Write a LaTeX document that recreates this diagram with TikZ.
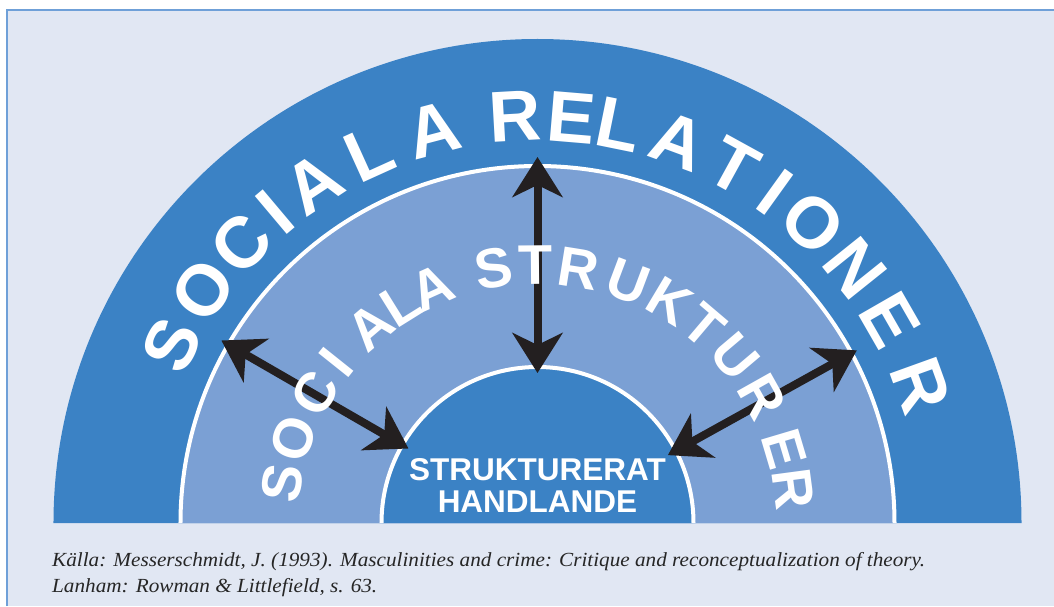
\documentclass[tikz,border=0pt]{standalone}
\usepackage{fontspec}
\setmainfont{Liberation Serif}
\newfontfamily\headfont{Liberation Sans}
\usetikzlibrary{arrows.meta}

\definecolor{panelbg}{HTML}{E1E7F3}
\definecolor{panelline}{HTML}{6FA0D8}
\definecolor{darkband}{HTML}{3B82C5}
\definecolor{lightband}{HTML}{7BA0D4}
\definecolor{arrowblack}{HTML}{231F20}

\tikzset{
  ringline/.style={white,line width=4},
  outerletter/.style={white,inner sep=0,font=\headfont\bfseries\fontsize{72}{72}\selectfont},
  middleletter/.style={white,inner sep=0,font=\headfont\bfseries\fontsize{56}{56}\selectfont},
  actiontext/.style={white,inner sep=0,anchor=base,font=\headfont\bfseries\fontsize{31.5}{32}\selectfont},
  sourcetext/.style={black!85,inner sep=0,anchor=base west,font=\itshape\fontsize{20}{26}\selectfont},
  biarrow/.style={arrowblack,line width=8,
    {Stealth[length=40pt,width=50pt,inset=12pt]}-{Stealth[length=40pt,width=50pt,inset=12pt]}}
}

\begin{document}
\begin{tikzpicture}[x=1pt,y=1pt]
\coordinate (O) at (0,0);

% page and panel
\fill[white] (-537.5,-83) rectangle (516.5,523);
\useasboundingbox (-537.5,-83) rectangle (516.5,523);
\fill[panelbg] (-530.5,-83) rectangle (516.5,513);
\draw[panelline,line width=1.5] (-530.5,-83)--(-530.5,513)--(516.5,513);

% the three half discs
\fill[darkband] (-484,0) arc[start angle=180,end angle=0,radius=484] -- cycle;
\fill[lightband] (-357,0) arc[start angle=180,end angle=0,radius=357] -- cycle;
\draw[ringline] (-357,0) arc[start angle=180,end angle=0,radius=357];
\fill[darkband] (-156,0) arc[start angle=180,end angle=0,radius=156] -- cycle;
\draw[ringline] (-156,0) arc[start angle=180,end angle=0,radius=156];

% arrows between the levels
\coordinate (inL) at (150:149);
\coordinate (outL) at (150:365);
\coordinate (inM) at (90:150);
\coordinate (outM) at (90:366);
\coordinate (inR) at (27.5:147);
\coordinate (outR) at (28.4:363);
\draw[biarrow] (outL)--(inL);
\draw[biarrow] (outM)--(inM);
\draw[biarrow] (outR)--(inR);

% lettering on the arcs
\foreach \ch/\ang [count=\i] in {S/154,O/145.2,C/136.6,I/130.1,A/123.4,L/114.4,A/104.8,
    R/93.2,E/85.2,L/78.5,A/69.8,T/61.2,I/54.3,O/47.5,N/38.7,E/29.9,R/19.8}
  \node[outerletter,rotate=\ang-90] (rel\i) at (\ang:407) {\ch};

\foreach \ch/\ang [count=\i] in {S/171.2,O/160.8,C/149.7,I/141.4,A/130.4,L/121.9,A/114.2,
    S/99.8,T/90.5,R/80.9,U/69.4,K/59.1,T/49.7,U/40.2,R/29.3,E/16.6,R/7.6}
  \node[middleletter,rotate=\ang-90] (str\i) at (\ang:258) {\ch};

\node[actiontext] (act1) at (0,43) {STRUKTURERAT};
\node[actiontext] (act2) at (0,11) {HANDLANDE};

\node[sourcetext] (src1) at (-485.5,-43) {\scalebox{1.06}[1]{Källa: Messerschmidt, J. (1993). Masculinities and crime: Critique and reconceptualization of theory.}};
\node[sourcetext] (src2) at (-485.5,-69) {\scalebox{1.06}[1]{Lanham: Rowman \& Littlefield, s. 63.}};

\end{tikzpicture}
\end{document}
